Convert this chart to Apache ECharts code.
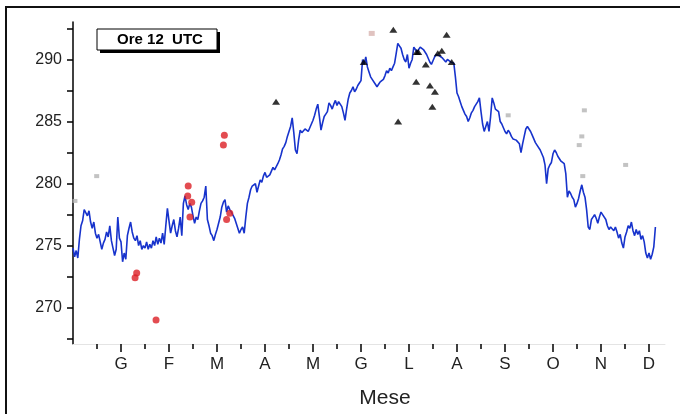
<!DOCTYPE html>
<html>
<head>
<meta charset="utf-8">
<script src="https://cdn.jsdelivr.net/npm/echarts@6/dist/echarts.min.js"></script>
<style>
html,body{margin:0;padding:0;background:#fff;}
#chart{width:680px;height:414px;}
</style>
</head>
<body>
<div id="chart"></div>
<script>
// Month tick labels (Italian initials), placed at day 30, 60, ... 360
const monthLabels = ['G','F','M','A','M','G','L','A','S','O','N','D'];
const monthTickDays = [30,60,90,120,150,180,210,240,270,300,330,360];
const minorTickDays = [15,45,75,105,135,165,195,225,255,285,315,345];
const yLabelValues = [270,275,280,285,290];
const yTickValues = [267.5,270,272.5,275,277.5,280,282.5,285,287.5,290,292.5];

// Daily temperature (K) at 12 UTC, day 0 .. 364
const dailyTemp = [
274.8,274.1,274.6,274.0,275.5,276.6,277.0,277.9,278.0,277.4,
277.8,276.9,276.4,276.9,276.0,275.6,275.9,275.3,274.7,275.2,
275.5,276.1,275.7,276.6,275.4,274.8,274.2,274.7,277.3,275.6,
275.3,273.7,274.4,273.9,275.8,276.4,276.9,276.1,275.6,275.4,
275.8,275.0,275.4,274.7,275.0,274.8,275.3,274.7,275.1,274.8,
275.4,275.0,275.7,275.1,275.6,275.2,276.0,275.1,276.6,278.0,
277.0,276.0,276.6,277.1,276.2,275.7,276.4,277.3,275.8,278.4,
279.0,278.3,277.9,278.4,278.1,277.4,276.8,277.3,277.1,277.8,
278.4,278.6,278.9,279.8,277.1,276.6,276.0,275.8,275.4,275.9,
276.3,276.8,277.3,278.1,278.5,278.7,277.7,278.2,277.9,277.7,
277.6,277.2,276.8,276.4,276.0,276.3,276.5,276.0,277.3,278.4,
278.9,279.5,279.8,279.7,280.0,279.3,279.8,280.3,280.1,280.6,
280.9,280.5,280.4,280.7,281.0,281.3,281.1,281.2,281.6,281.9,
282.3,282.8,283.0,283.3,283.8,284.2,284.6,285.3,284.1,282.7,
282.4,283.5,284.3,284.1,284.0,284.4,284.3,284.2,284.5,284.8,
285.1,285.5,286.0,286.4,285.4,284.3,284.9,285.4,285.6,285.8,
286.5,286.3,286.0,286.4,286.7,286.3,286.6,286.4,286.2,285.7,
285.1,286.0,286.8,287.3,287.5,287.8,287.4,287.6,287.9,288.1,
288.3,290.0,289.6,290.2,289.4,289.0,288.6,288.4,288.3,288.0,
287.8,288.0,288.2,288.1,288.4,288.7,289.1,288.9,289.3,289.1,
289.4,289.7,290.5,291.3,291.1,290.9,290.4,290.0,289.8,290.4,
289.3,289.7,290.0,291.0,290.8,290.6,290.7,291.0,290.9,290.8,
290.8,290.4,290.1,289.8,289.6,289.9,290.2,290.4,290.5,290.3,
290.2,290.1,290.0,289.8,290.0,289.9,289.8,289.7,289.7,288.6,
287.3,287.0,286.6,286.2,285.9,285.6,285.4,285.0,285.3,285.7,
285.9,286.2,286.4,286.6,286.9,285.8,284.8,284.2,284.6,285.0,
284.2,285.4,286.9,286.5,286.0,285.9,285.8,285.0,284.8,284.5,
284.2,284.0,284.3,284.1,283.8,283.6,283.7,283.5,283.4,283.2,
282.5,283.2,283.8,284.4,284.6,284.5,284.2,283.9,283.6,283.3,
283.1,283.0,282.7,282.4,282.1,281.5,280.0,281.2,281.5,281.7,
282.4,282.7,282.5,282.2,282.0,281.8,281.7,281.6,280.8,278.9,
279.4,279.2,278.9,278.7,278.1,278.4,278.8,279.4,279.9,279.3,
278.9,277.9,276.5,276.3,277.1,277.3,277.5,277.2,276.8,277.3,
277.7,277.5,277.6,277.1,276.6,276.3,276.5,276.4,276.2,276.5,
276.1,275.6,275.9,275.2,274.8,275.7,276.1,276.6,276.4,276.9,
276.2,275.8,276.3,275.9,276.2,275.5,275.8,275.3,274.4,274.0,
274.4,273.9,274.3,274.9,276.5
];

// Red circles
const redDays   = [51.9, 39.8, 38.8, 72.0, 71.7, 74.2, 73.1, 94.6, 94.0, 96.0, 98.0];
const redValues = [269.0, 272.8, 272.4, 279.8, 279.0, 278.5, 277.3, 283.9, 283.1, 277.1, 277.6];

// Black triangles
const triDays   = [126.9, 181.7, 200.2, 203.2, 214.5, 214.8, 215.8, 220.5, 223.1, 224.6, 226.2, 228.0, 230.5, 233.5, 236.7];
const triValues = [286.6, 289.8, 292.4, 285.0, 288.2, 290.6, 290.6, 289.6, 287.9, 286.2, 287.4, 290.5, 290.7, 292.0, 289.8];

// Grey squares
const greyDays   = [1.2, 14.8, 272.0, 319.6, 318.0, 316.4, 318.6, 345.4];
const greyValues = [278.6, 280.6, 285.5, 285.9, 283.8, 283.1, 280.6, 281.5];
// Pale rose square
const roseDays   = [186.7];
const roseValues = [292.1];

const pair = (xs, ys) => xs.map((x, i) => [x, ys[i]]);

const chart = echarts.init(document.getElementById('chart'), null, {renderer: 'canvas'});

const option = {
  animation: false,
  backgroundColor: '#ffffff',
  grid: {left: 73, right: 15, top: 22, bottom: 70, containLabel: false},
  xAxis: [
    {
      type: 'value', min: 0, max: 370,
      axisLine: {show: true, lineStyle: {color: '#e4e4e4', width: 1}},
      axisTick: {show: true, length: 8, customValues: monthTickDays, lineStyle: {color: '#000', width: 1.5}},
      axisLabel: {
        show: true, customValues: monthTickDays, margin: 12,
        fontFamily: 'Liberation Sans, Arial, sans-serif', fontSize: 17, color: '#222',
        formatter: function (v) { const i = monthTickDays.indexOf(Math.round(v)); return i >= 0 ? monthLabels[i] : ''; }
      },
      splitLine: {show: false}
    },
    {
      type: 'value', min: 0, max: 370, position: 'bottom',
      axisLine: {show: false},
      axisTick: {show: true, length: 5, customValues: minorTickDays, lineStyle: {color: '#000', width: 1.5}},
      axisLabel: {show: false},
      splitLine: {show: false}
    }
  ],
  yAxis: {
    type: 'value', min: 267.07, max: 293.02,
    axisLine: {show: true, lineStyle: {color: '#000', width: 1.5}},
    axisTick: {show: true, length: 6, customValues: yTickValues, lineStyle: {color: '#000', width: 1.5}},
    axisLabel: {
      show: true, customValues: yLabelValues, margin: 11,
      fontFamily: 'Liberation Sans, Arial, sans-serif', fontSize: 16, color: '#222'
    },
    splitLine: {show: false}
  },
  series: [
    {
      type: 'line', name: 'T', xAxisIndex: 0,
      data: pair(dailyTemp.map((v, i) => i), dailyTemp),
      showSymbol: false, symbol: 'none',
      lineStyle: {color: '#1733cc', width: 1.6},
      z: 2
    },
    {
      type: 'scatter', xAxisIndex: 0, data: pair(greyDays, greyValues),
      symbol: 'rect', symbolSize: [5, 4], itemStyle: {color: '#b4b4b4'}, z: 3
    },
    {
      type: 'scatter', xAxisIndex: 0, data: pair(roseDays, roseValues),
      symbol: 'rect', symbolSize: [6, 5], itemStyle: {color: '#d8b4b0'}, z: 3
    },
    {
      type: 'scatter', xAxisIndex: 0, data: pair(redDays, redValues),
      symbol: 'circle', symbolSize: 7, itemStyle: {color: '#dc1f26'}, z: 4
    },
    {
      type: 'scatter', xAxisIndex: 0, data: pair(triDays, triValues),
      symbol: 'triangle', symbolSize: [8, 6], itemStyle: {color: '#000'}, z: 4
    }
  ],
  graphic: [
    {type: 'rect', shape: {x: 6, y: 7, width: 700, height: 450}, style: {fill: null, stroke: '#111', lineWidth: 2}, silent: true},
    {type: 'rect', shape: {x: 100, y: 32, width: 120, height: 21}, style: {fill: '#000'}, silent: true},
    {type: 'rect', shape: {x: 97, y: 29, width: 120, height: 21}, style: {fill: '#fff', stroke: '#000', lineWidth: 1}, silent: true},
    {type: 'text', x: 160, y: 40, style: {text: 'Ore 12  UTC', align: 'center', verticalAlign: 'middle', font: 'bold 15px "Liberation Sans", Arial, sans-serif', fill: '#000'}, silent: true},
    {type: 'text', x: 385, y: 398, style: {text: 'Mese', align: 'center', verticalAlign: 'middle', font: '21px "Liberation Sans", Arial, sans-serif', fill: '#222'}, silent: true}
  ]
};
chart.setOption(option);
</script>
</body>
</html>
